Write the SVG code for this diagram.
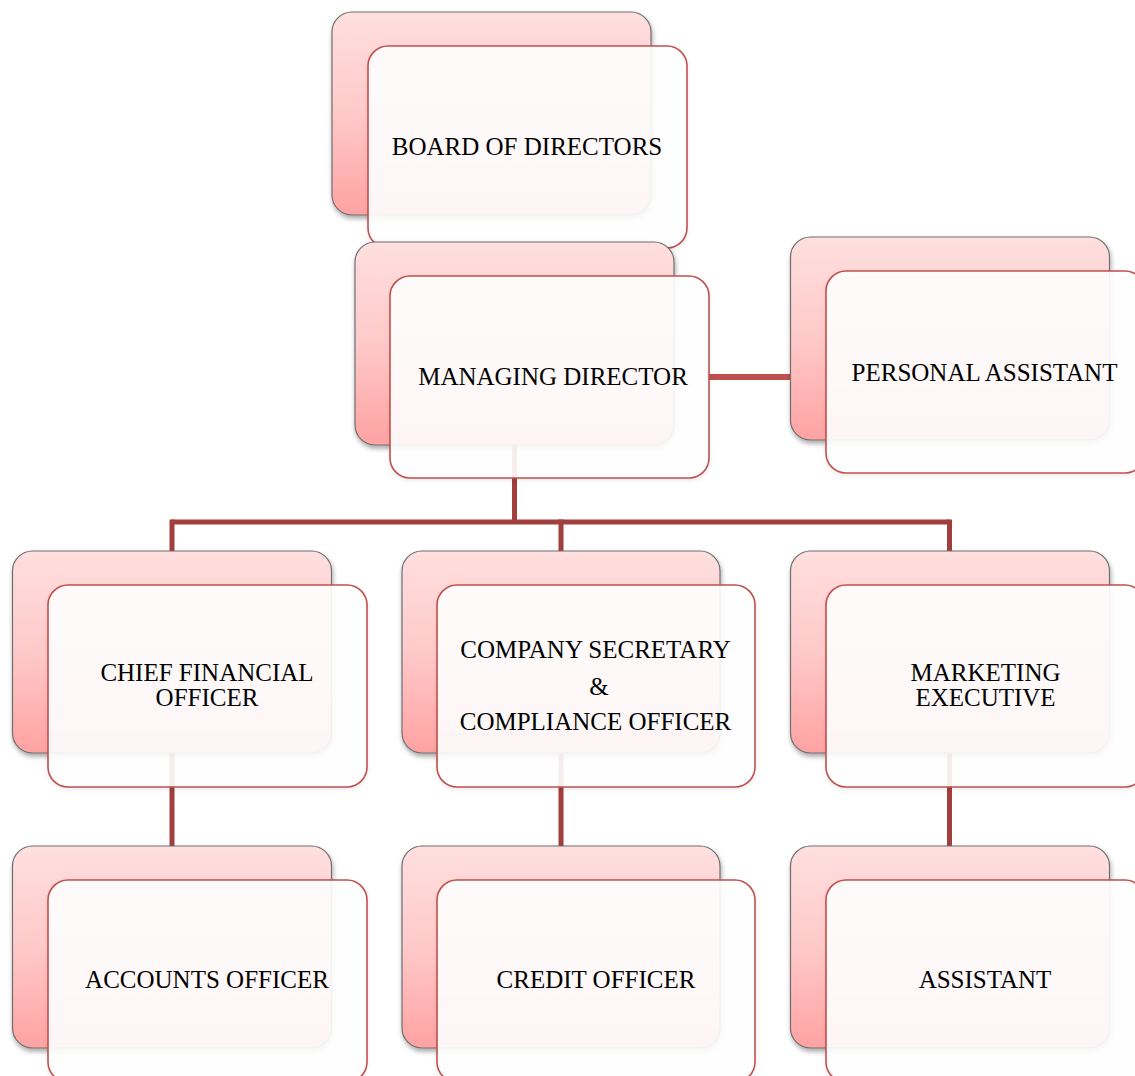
<svg xmlns="http://www.w3.org/2000/svg" width="1135" height="1076" viewBox="0 0 1135 1076">
<defs>
<linearGradient id="pink" x1="0" y1="0" x2="0" y2="1">
<stop offset="0" stop-color="#ffdfdf"/>
<stop offset="0.5" stop-color="#ffc9c9"/>
<stop offset="1" stop-color="#ffa2a2"/>
</linearGradient>
<filter id="sh" x="-10%" y="-10%" width="125%" height="130%">
<feDropShadow dx="1" dy="3" stdDeviation="2.5" flood-color="#000" flood-opacity="0.35"/>
</filter>
<filter id="sh2" x="-10%" y="-10%" width="125%" height="130%">
<feDropShadow dx="0" dy="2" stdDeviation="2" flood-color="#000" flood-opacity="0.08"/>
</filter>
</defs>
<style>
.back{fill:url(#pink);stroke:#6e6e6e;stroke-width:1.2;filter:url(#sh)}
.front{fill:#ffffff;fill-opacity:0.9;stroke:#c0504d;stroke-width:1.6;filter:url(#sh2)}
.t{font-family:"Liberation Serif","Times New Roman",serif;font-size:25px;fill:#000;text-anchor:middle}
.c{fill:none;stroke:#a13f3d;stroke-width:5}
.c2{fill:none;stroke:#c0504d;stroke-width:6}
</style>
<rect width="1135" height="1076" fill="#ffffff"/>
<g id="connectors">
<path class="c" d="M514.5,420 V522"/>
<path class="c" d="M172,522 H949.5"/>
<path class="c" d="M172,519.5 V570 M561,519.5 V570 M949.5,519.5 V570"/>
<path class="c" d="M172,720 V860 M561,720 V860 M949.5,720 V860"/>
<path class="c2" d="M709,377 H792"/>
</g>
<g id="board">
<rect class="back" x="332" y="12" width="319" height="203" rx="20"/>
<rect class="front" x="368" y="46" width="319" height="202" rx="20"/>
<text class="t" x="527" y="155">BOARD OF DIRECTORS</text>
</g>
<g id="md">
<rect class="back" x="355" y="242" width="319" height="203" rx="20"/>
<rect class="front" x="390" y="276" width="319" height="202" rx="20"/>
<text class="t" x="553" y="385">MANAGING DIRECTOR</text>
</g>
<g id="pa">
<rect class="back" x="790.5" y="237" width="319" height="203" rx="20"/>
<rect class="front" x="826" y="271" width="319" height="202" rx="20"/>
<text class="t" x="984.5" y="381">PERSONAL ASSISTANT</text>
</g>
<g id="cfo">
<rect class="back" x="12.5" y="551" width="319" height="202" rx="20"/>
<rect class="front" x="48" y="585" width="319" height="202" rx="20"/>
<text class="t" x="207" y="681">CHIEF FINANCIAL</text>
<text class="t" x="207" y="706">OFFICER</text>
</g>
<g id="cs">
<rect class="back" x="402" y="551" width="318" height="202" rx="20"/>
<rect class="front" x="437" y="585" width="318" height="202" rx="20"/>
<text class="t" x="595.5" y="658">COMPANY SECRETARY</text>
<text class="t" x="599" y="695">&amp;</text>
<text class="t" x="595.5" y="730">COMPLIANCE OFFICER</text>
</g>
<g id="me">
<rect class="back" x="790.5" y="551" width="319" height="202" rx="20"/>
<rect class="front" x="826" y="585" width="319" height="202" rx="20"/>
<text class="t" x="985.5" y="681">MARKETING</text>
<text class="t" x="985.5" y="706">EXECUTIVE</text>
</g>
<g id="accounts">
<rect class="back" x="12.5" y="846" width="319" height="202" rx="20"/>
<rect class="front" x="48" y="880" width="319" height="202" rx="20"/>
<text class="t" x="207" y="988">ACCOUNTS OFFICER</text>
</g>
<g id="credit">
<rect class="back" x="402" y="846" width="318" height="202" rx="20"/>
<rect class="front" x="437" y="880" width="318" height="202" rx="20"/>
<text class="t" x="596" y="988">CREDIT OFFICER</text>
</g>
<g id="assistant">
<rect class="back" x="790.5" y="846" width="319" height="202" rx="20"/>
<rect class="front" x="826" y="880" width="319" height="202" rx="20"/>
<text class="t" x="985" y="988">ASSISTANT</text>
</g>
</svg>
